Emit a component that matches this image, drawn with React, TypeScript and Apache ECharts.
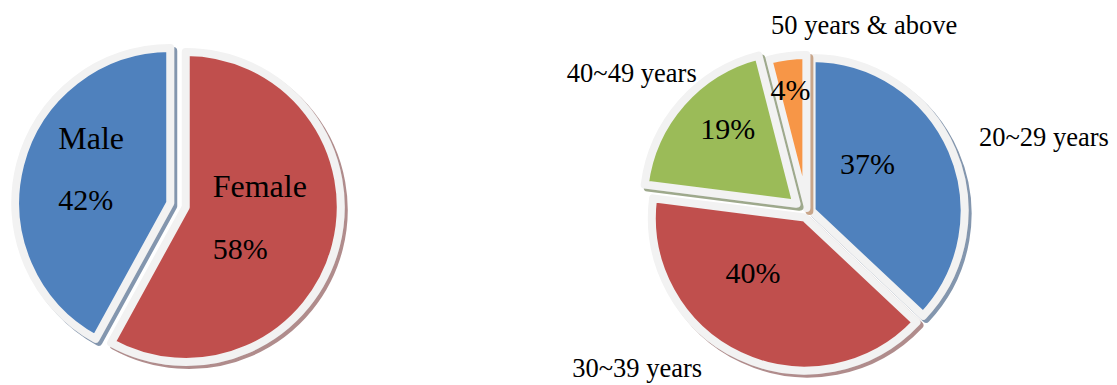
import React, { useEffect, useRef } from "react";
import * as echarts from "echarts";

// ---- data ----
const genderNames = ["Female", "Male"];
const genderValues = [58, 42];
const ageNames = ["20~29 years", "30~39 years", "40~49 years", "50 years & above"];
const ageValues = [37, 40, 19, 4];

// ---- styles ----
const FONT = "'Liberation Serif', 'Times New Roman', serif";
const BORDER = "#f2f2f2";
const genderColors = ["#c0504d", "#4f81bd"];
const genderShadows = ["#b08c8c", "#8396ae"];
const ageColors = ["#4f81bd", "#c0504d", "#9bbb59", "#f79646"];
const ageShadows = ["#8396ae", "#b08c8c", "#9ea98c", "#c9a68a"];

// label nudges (px) relative to the library's own label placement
const genderLabelShift = [[-51, -10], [-34, -14]];
const agePctShift = [[-17, -16], [-18, -17], [-9, -23], [-6, -40]];
const ageNameShift = [[4, -3], [-27, -11], [27, -19], [-13, -6]];
const ageNameAlign = ["left", "right", "right", "left"];

const LEFT_CENTER = [178, 205];
const LEFT_R = 155;
const RIGHT_CENTER = [807, 213];
const RIGHT_R = 153;

function sliceSeries(
  center: number[],
  radius: number,
  offset: number,
  names: string[],
  values: number[],
  colors: string[],
  shadows: string[],
  visible: number[],
  shifts: number[][],
  formatter: string,
  alignLeft: boolean
) {
  return {
    type: "pie",
    silent: true,
    clockwise: true,
    startAngle: 90,
    avoidLabelOverlap: false,
    selectedMode: "multiple",
    selectedOffset: offset,
    emphasis: { disabled: true },
    center,
    radius,
    labelLine: { show: false },
    label: {
      position: "inside",
      formatter,
      color: "#000",
      fontFamily: FONT,
      fontSize: 30,
      lineHeight: 62,
      rich: {
        n: { fontFamily: FONT, fontSize: 32, color: "#000", lineHeight: 62 },
        p: { fontFamily: FONT, fontSize: 30, color: "#000", lineHeight: 62 },
      },
    },
    labelLayout: (p: any) => {
      const s = shifts[p.dataIndex] || [0, 0];
      const o: any = { dx: s[0], dy: s[1] };
      if (alignLeft) o.align = "left";
      return o;
    },
    data: names.map((n, i) => {
      const on = visible.includes(i);
      return {
        name: n,
        value: values[i],
        selected: on,
        itemStyle: on
          ? {
              color: colors[i],
              borderColor: BORDER,
              borderWidth: 8,
              shadowColor: shadows[i],
              shadowOffsetX: 3,
              shadowOffsetY: 3,
              shadowBlur: 1,
            }
          : { color: "transparent", borderWidth: 0, opacity: 0 },
        label: { show: on },
      };
    }),
  };
}

export default function App() {
  const ref = useRef<HTMLDivElement>(null);
  useEffect(() => {
    if (!ref.current) return;
    const chart = echarts.init(ref.current, undefined, { renderer: "svg" });
    const option: any = {
      animation: false,
      backgroundColor: "#ffffff",
      series: [
        sliceSeries(LEFT_CENTER, LEFT_R, 8, genderNames, genderValues, genderColors, genderShadows, [0, 1], genderLabelShift, "{n|{b}}\n{p|{c}%}", true),
        sliceSeries(RIGHT_CENTER, RIGHT_R, 5, ageNames, ageValues, ageColors, ageShadows, [0, 1, 3], agePctShift, "{c}%", false),
        sliceSeries(RIGHT_CENTER, RIGHT_R, 14, ageNames, ageValues, ageColors, ageShadows, [2], agePctShift, "{c}%", false),
        {
          type: "pie",
          silent: true,
          clockwise: true,
          startAngle: 90,
          avoidLabelOverlap: false,
          emphasis: { disabled: true },
          center: RIGHT_CENTER,
          radius: RIGHT_R,
          z: 1,
          itemStyle: { color: "rgba(0,0,0,0)", borderWidth: 0 },
          label: {
            show: true,
            position: "outside",
            color: "#000",
            fontFamily: FONT,
            fontSize: 26.5,
            distanceToLabelLine: 0,
            formatter: "{b}",
          },
          labelLine: { show: false, length: 30, length2: 0 },
          labelLayout: (p: any) => {
            const s = ageNameShift[p.dataIndex] || [0, 0];
            return { dx: s[0], dy: s[1], align: ageNameAlign[p.dataIndex] };
          },
          data: ageNames.map((n, i) => ({ name: n, value: ageValues[i] })),
        },
      ],
    };
    chart.setOption(option);
    return () => chart.dispose();
  }, []);
  return (
    <div
      ref={ref}
      style={{ position: "absolute", left: 0, top: 0, width: 1117, height: 385 }}
    />
  );
}
